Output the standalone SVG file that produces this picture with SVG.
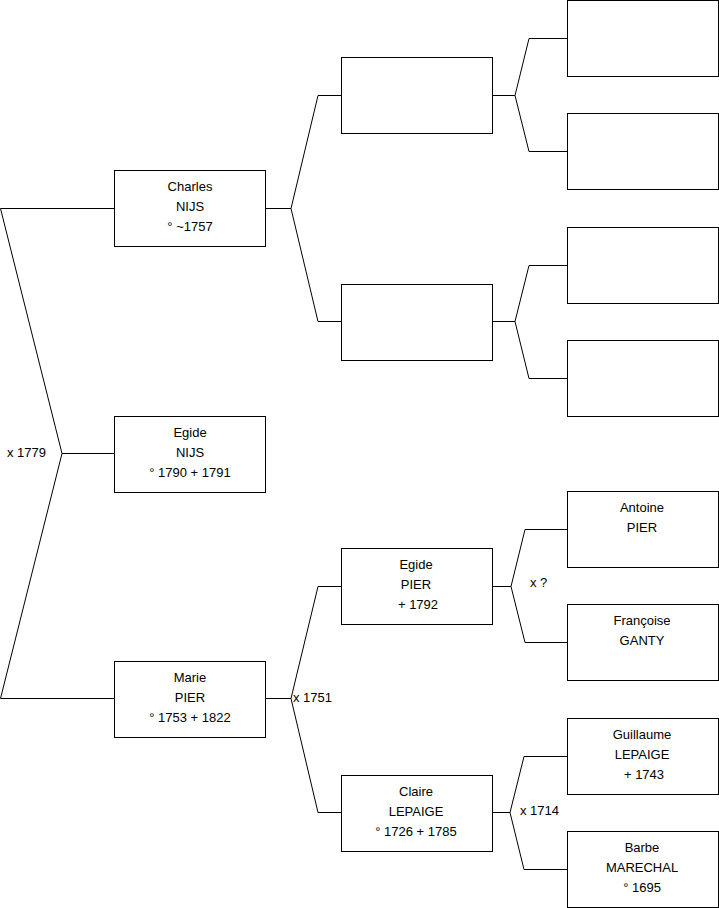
<svg xmlns="http://www.w3.org/2000/svg" width="719" height="908" viewBox="0 0 719 908">
<style>
.b{fill:#fff;stroke:#000;stroke-width:1}
.c{fill:none;stroke:#000;stroke-width:1}
text{font-family:"Liberation Sans",Arial,sans-serif;font-size:13px;fill:#000}
.m{text-anchor:middle}
</style>
<rect width="719" height="908" fill="#fff"/>
<g id="connectors">
<polyline class="c" points="114,208.5 0.5,208.5 62,453.5 0.5,698.5 114,698.5"/>
<line class="c" x1="62" y1="453.5" x2="114" y2="453.5"/>
<polyline class="c" points="341,95.5 318,95.5 291,208.5 318,321.5 341,321.5"/>
<line class="c" x1="265" y1="208.5" x2="291" y2="208.5"/>
<polyline class="c" points="341,586.5 318,586.5 291,698.5 318,812.5 341,812.5"/>
<line class="c" x1="265" y1="698.5" x2="291" y2="698.5"/>
<polyline class="c" points="567,38.5 529,38.5 515,95.5 529,151.5 567,151.5"/>
<line class="c" x1="492" y1="95.5" x2="515" y2="95.5"/>
<polyline class="c" points="567,265.5 529,265.5 515,321.5 529,378.5 567,378.5"/>
<line class="c" x1="492" y1="321.5" x2="515" y2="321.5"/>
<polyline class="c" points="567,529.5 525,529.5 511,586.5 525,642.5 567,642.5"/>
<line class="c" x1="492" y1="586.5" x2="511" y2="586.5"/>
<polyline class="c" points="567,756.5 524,756.5 510,812.5 524,869.5 567,869.5"/>
<line class="c" x1="492" y1="812.5" x2="510" y2="812.5"/>
<text x="7" y="457">x 1779</text>
<text x="293" y="702">x 1751</text>
<text x="530" y="587">x ?</text>
<text x="520" y="815">x 1714</text>
</g>
<g id="charles"><rect class="b" x="114.5" y="170.5" width="151" height="76"/>
<text class="m" x="190" y="191">Charles</text><text class="m" x="190" y="211">NIJS</text><text class="m" x="190" y="231">° ~1757</text></g>
<g id="egide-nijs"><rect class="b" x="114.5" y="416.5" width="151" height="76"/>
<text class="m" x="190" y="437">Egide</text><text class="m" x="190" y="457">NIJS</text><text class="m" x="190" y="477">° 1790 + 1791</text></g>
<g id="marie"><rect class="b" x="114.5" y="661.5" width="151" height="76"/>
<text class="m" x="190" y="682">Marie</text><text class="m" x="190" y="702">PIER</text><text class="m" x="190" y="722">° 1753 + 1822</text></g>
<g id="p2a"><rect class="b" x="341.5" y="57.5" width="151" height="76"/></g>
<g id="p2b"><rect class="b" x="341.5" y="284.5" width="151" height="76"/></g>
<g id="egide-pier"><rect class="b" x="341.5" y="548.5" width="151" height="76"/>
<text class="m" x="416" y="569">Egide</text><text class="m" x="416" y="589">PIER</text><text class="m" x="418" y="609">+ 1792</text></g>
<g id="claire"><rect class="b" x="341.5" y="775.5" width="151" height="76"/>
<text class="m" x="416" y="796">Claire</text><text class="m" x="416" y="816">LEPAIGE</text><text class="m" x="416" y="836">° 1726 + 1785</text></g>
<g id="p3a"><rect class="b" x="567.5" y="0.5" width="151" height="76"/></g>
<g id="p3b"><rect class="b" x="567.5" y="113.5" width="151" height="76"/></g>
<g id="p3c"><rect class="b" x="567.5" y="227.5" width="151" height="76"/></g>
<g id="p3d"><rect class="b" x="567.5" y="340.5" width="151" height="76"/></g>
<g id="antoine"><rect class="b" x="567.5" y="491.5" width="151" height="76"/>
<text class="m" x="642" y="512">Antoine</text><text class="m" x="642" y="532">PIER</text></g>
<g id="francoise"><rect class="b" x="567.5" y="604.5" width="151" height="76"/>
<text class="m" x="642" y="625">Françoise</text><text class="m" x="642" y="645">GANTY</text></g>
<g id="guillaume"><rect class="b" x="567.5" y="718.5" width="151" height="76"/>
<text class="m" x="642" y="739">Guillaume</text><text class="m" x="642" y="759">LEPAIGE</text><text class="m" x="644" y="779">+ 1743</text></g>
<g id="barbe"><rect class="b" x="567.5" y="831.5" width="151" height="76"/>
<text class="m" x="642" y="852">Barbe</text><text class="m" x="642" y="872">MARECHAL</text><text class="m" x="642" y="892">° 1695</text></g>
</svg>
